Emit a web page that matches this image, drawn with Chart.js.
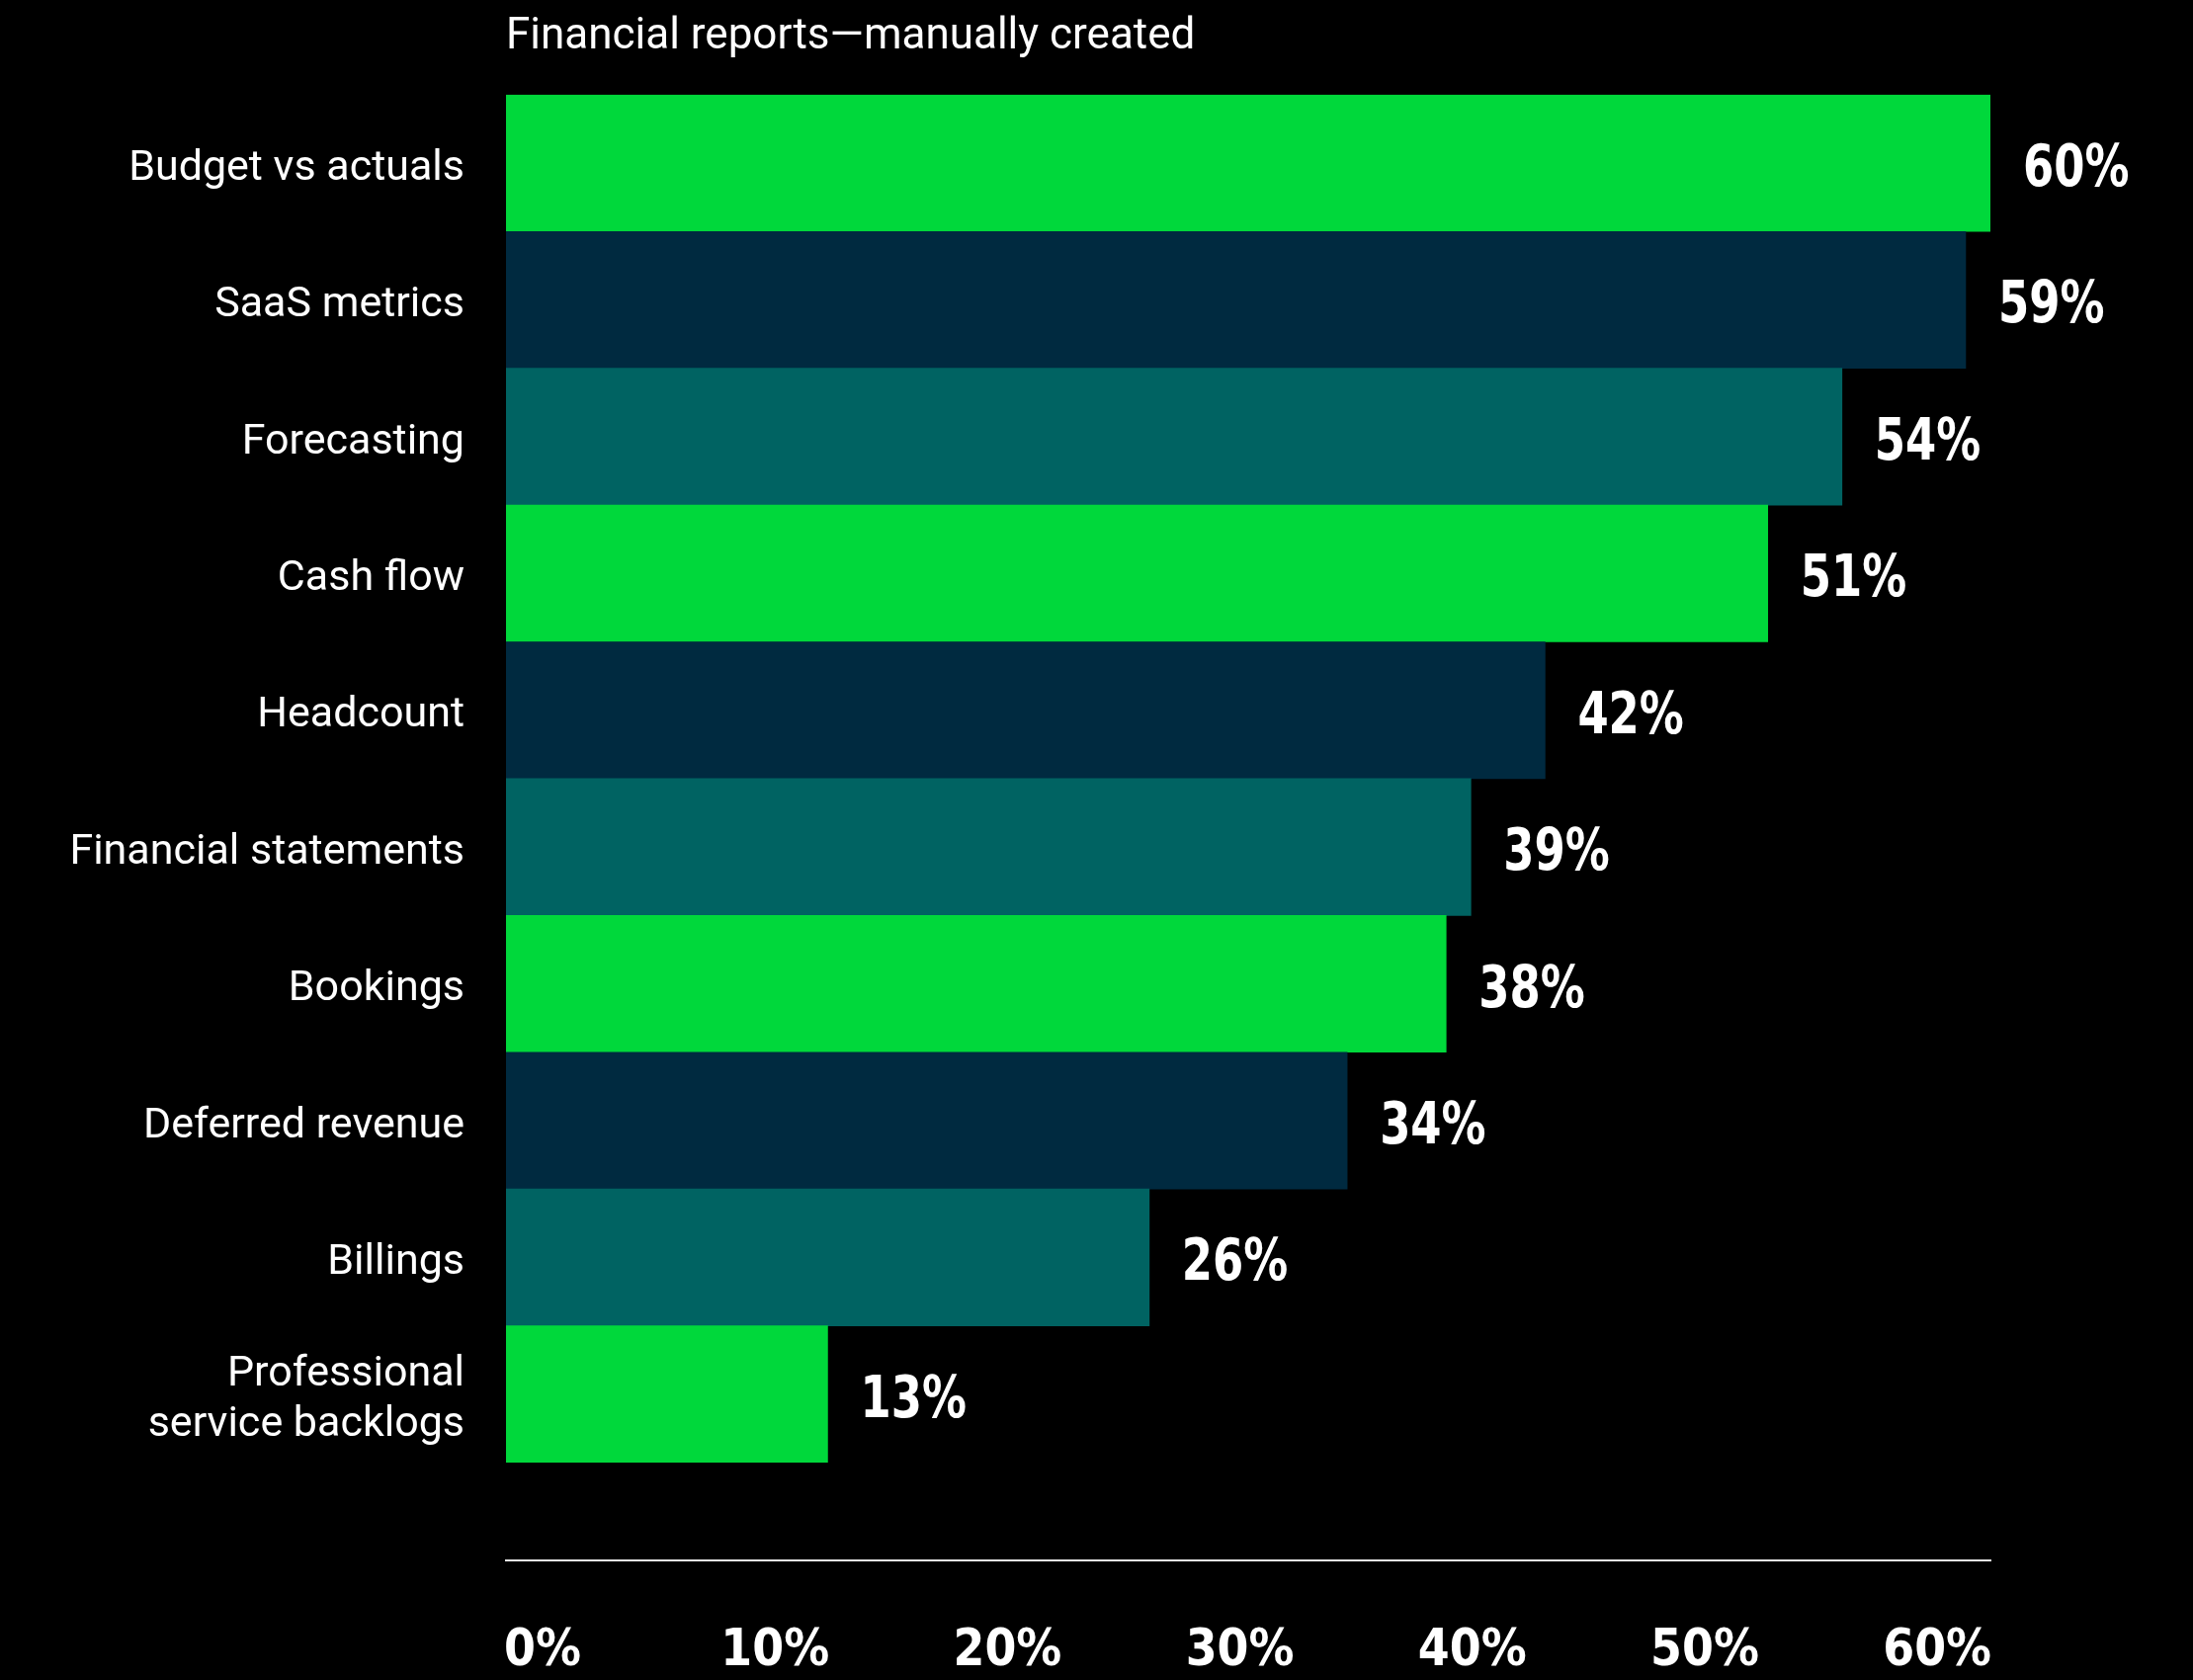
<!DOCTYPE html>
<html lang="en">
<head>
<meta charset="utf-8">
<title>Financial reports — manually created</title>
<script src="https://cdn.jsdelivr.net/npm/chart.js@4"></script>
<style>
  html, body { margin: 0; padding: 0; background: #000; }
  #wrap { width: 2219px; height: 1700px; }
</style>
</head>
<body>
<div id="wrap"><canvas id="chart" width="2219" height="1700"></canvas></div>
<script>
// data
const categories = ['Budget vs actuals', 'SaaS metrics', 'Forecasting', 'Cash flow', 'Headcount',
  'Financial statements', 'Bookings', 'Deferred revenue', 'Billings', ['Professional', 'service backlogs']];
const values = [60, 59, 54, 51, 42, 39, 38, 34, 26, 13];
const barColors = ['#00d83b', '#002a40', '#006362', '#00d83b', '#002a40',
  '#006362', '#00d83b', '#002a40', '#006362', '#00d83b'];
const xTicks = [0, 10, 20, 30, 40, 50, 60];

const narrow = "'Liberation Sans Narrow', 'DejaVu Sans Condensed', 'Roboto', sans-serif";
const plain = "'Roboto', 'Liberation Sans', sans-serif";

// percent labels right of each bar (squeezed a bit to look condensed)
const valueLabels = {
  id: 'valueLabels',
  afterDatasetsDraw(chart) {
    const ctx = chart.ctx;
    const meta = chart.getDatasetMeta(0);
    const sx = 0.86;
    ctx.save();
    ctx.fillStyle = '#fff';
    ctx.font = 'bold 58px ' + narrow;
    ctx.textAlign = 'left';
    ctx.textBaseline = 'middle';
    meta.data.forEach((bar, i) => {
      ctx.save();
      ctx.translate(bar.x + 33, bar.y + 8);
      ctx.scale(sx, 1);
      ctx.fillText(values[i] + '%', 0, 0);
      ctx.restore();
    });
    ctx.restore();
  }
};

new Chart(document.getElementById('chart'), {
  type: 'bar',
  data: {
    labels: categories,
    datasets: [{
      data: values,
      backgroundColor: barColors,
      barPercentage: 1,
      categoryPercentage: 1,
      borderWidth: 0
    }]
  },
  options: {
    indexAxis: 'y',
    responsive: false,
    animation: false,
    layout: { padding: { left: 0, right: 205, top: 0, bottom: 0 } },
    plugins: {
      legend: { display: false },
      tooltip: { enabled: false },
      title: {
        display: true,
        text: 'Financial reports\u2014manually created',
        align: 'start',
        fullSize: false,
        color: '#fff',
        font: { family: plain, size: 44, weight: 'normal' },
        padding: { top: 12, bottom: 31 }
      }
    },
    scales: {
      y: {
        grid: { display: false },
        border: { display: false },
        ticks: {
          color: '#fff',
          padding: 34,
          labelOffset: 6,
          font: { family: plain, size: 43 }
        },
        afterFit: s => { s.width = 512; }
      },
      // empty strip between bars and the axis line
      x: {
        min: 0,
        max: 60,
        weight: 0,
        grid: { display: false },
        border: { display: false },
        ticks: { display: false },
        afterFit: s => { s.height = 99; }
      },
      // visible axis: line + spread-out tick labels
      x2: {
        type: 'linear',
        position: 'bottom',
        weight: 1,
        min: -1.573,
        max: 62.29,
        grid: { color: 'rgba(0,0,0,0)', drawTicks: false },
        border: { display: true, color: '#e8e8e8', width: 2 },
        afterBuildTicks: axis => { axis.ticks = xTicks.map(v => ({ value: v })); },
        ticks: {
          color: '#fff',
          padding: 62,
          maxRotation: 0,
          autoSkip: false,
          font: { family: narrow, size: 51, weight: 'bold' },
          callback: v => v + '%'
        },
        afterFit: s => { s.height = 121; }
      }
    }
  },
  plugins: [valueLabels]
});
</script>
</body>
</html>
